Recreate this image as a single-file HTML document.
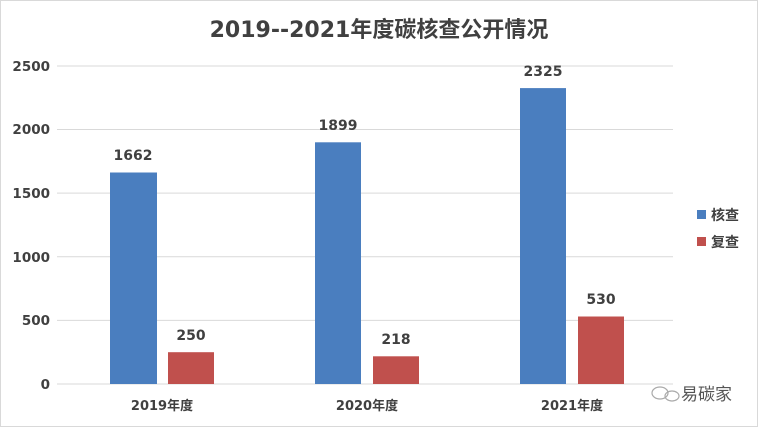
<!DOCTYPE html><html><head><meta charset="utf-8"><style>body{margin:0;background:#fff}svg{display:block}</style></head><body>
<svg width="758" height="427" xmlns="http://www.w3.org/2000/svg" font-family="DejaVu Sans, Noto Sans CJK SC, sans-serif">
<rect x="0.5" y="0.5" width="757" height="426" fill="#fff" stroke="#d9d9d9"/>
<text x="379" y="37" text-anchor="middle" font-size="22" font-weight="bold" fill="#404040">2019--2021年度碳核查公开情况</text>
<g stroke="#d9d9d9" stroke-width="1">
<line x1="57" x2="673" y1="66" y2="66"/><line x1="57" x2="673" y1="129.5" y2="129.5"/><line x1="57" x2="673" y1="193.1" y2="193.1"/><line x1="57" x2="673" y1="256.7" y2="256.7"/><line x1="57" x2="673" y1="320.4" y2="320.4"/><line x1="57" x2="673" y1="384" y2="384"/></g>
<g font-size="13.5" font-weight="bold" fill="#404040" text-anchor="end">
<text x="50" y="71">2500</text><text x="50" y="134">2000</text><text x="50" y="198">1500</text><text x="50" y="262">1000</text><text x="50" y="325">500</text><text x="50" y="389">0</text></g>
<g fill="#4a7ebf"><rect x="110" y="172.5" width="47" height="211.5"/><rect x="315" y="142.3" width="46" height="241.7"/><rect x="520" y="88.1" width="46" height="295.9"/></g>
<g fill="#c0504d"><rect x="168" y="352.2" width="46" height="31.8"/><rect x="373" y="356.3" width="46" height="27.7"/><rect x="578" y="316.5" width="46" height="67.5"/></g>
<g font-size="14" font-weight="bold" fill="#404040" text-anchor="middle">
<text x="133" y="160">1662</text><text x="191" y="340">250</text><text x="338" y="130">1899</text><text x="396" y="344">218</text><text x="543" y="76">2325</text><text x="601" y="304">530</text>
<text x="162" y="410" font-size="13">2019年度</text><text x="367" y="410" font-size="13">2020年度</text><text x="572" y="410" font-size="13">2021年度</text></g>
<rect x="697" y="210" width="9" height="9" fill="#4a7ebf"/><text x="711" y="220" font-size="14" font-weight="bold" fill="#404040">核查</text>
<rect x="697" y="237" width="9" height="9" fill="#c0504d"/><text x="711" y="247" font-size="14" font-weight="bold" fill="#404040">复查</text>
<g fill="none" stroke="#aaa" stroke-width="1.2"><ellipse cx="660" cy="393" rx="8" ry="6"/><ellipse cx="672" cy="396" rx="7" ry="5"/></g>
<text x="681" y="400" font-size="17" fill="#555">易碳家</text>
</svg></body></html>
